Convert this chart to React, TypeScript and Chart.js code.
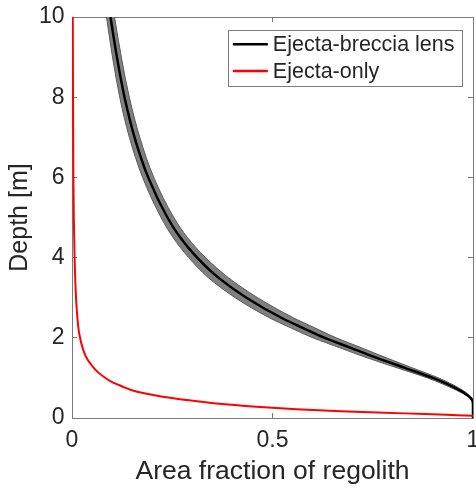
import React, { useEffect, useRef } from 'react';
import { Chart, registerables } from 'chart.js';

Chart.register(...registerables);

// ---- data ----
const X_TICKS = [0, 0.5, 1];
const Y_TICKS = [0, 2, 4, 6, 8, 10];
const X_TITLE = 'Area fraction of regolith';
const Y_TITLE = 'Depth [m]';
const LEGEND_LABELS = ['Ejecta-breccia lens', 'Ejecta-only'];

// Ejecta-breccia lens: depth [m] vs area fraction (mean and uncertainty band edges)
const BRECCIA_DEPTH = [10, 9, 8, 7, 6, 5, 4.5, 4, 3.5, 3, 2.5, 2.25, 2, 1.75, 1.5, 1.25, 1, 0.85, 0.7, 0.6, 0.5, 0.42, 0.3, 0];
const BRECCIA_MEAN = [0.096, 0.112, 0.131, 0.156, 0.19, 0.238, 0.27, 0.312, 0.365, 0.435, 0.522, 0.575, 0.63, 0.695, 0.76, 0.83, 0.9, 0.935, 0.965, 0.982, 0.994, 0.999, 1.0, 1.0];
const BRECCIA_LOW = [0.086, 0.101, 0.119, 0.143, 0.176, 0.222, 0.252, 0.291, 0.34, 0.407, 0.492, 0.545, 0.601, 0.668, 0.736, 0.811, 0.886, 0.924, 0.957, 0.977, 0.991, 0.998, 1.0, 1.0];
const BRECCIA_HIGH = [0.106, 0.123, 0.143, 0.169, 0.204, 0.254, 0.288, 0.333, 0.39, 0.463, 0.552, 0.605, 0.659, 0.722, 0.784, 0.849, 0.914, 0.946, 0.973, 0.987, 0.997, 1.0, 1.0, 1.0];

// Ejecta-only
const EJECTA_DEPTH = [10, 8, 6, 5, 4, 3, 2.5, 2.1, 1.7, 1.45, 1.28, 1.15, 1.03, 0.9, 0.78, 0.7, 0.615, 0.53, 0.45, 0.36, 0.28, 0.22, 0.17, 0.13, 0.1, 0.07, 0.055];
const EJECTA_ONLY = [0.002, 0.0025, 0.0035, 0.0045, 0.0065, 0.01, 0.0135, 0.018, 0.028, 0.039, 0.052, 0.064, 0.079, 0.099, 0.127, 0.147, 0.18, 0.226, 0.285, 0.36, 0.46, 0.56, 0.67, 0.78, 0.88, 0.96, 1.0];

// ---- styles ----
const FONT = '"Liberation Sans", Arial, Helvetica, sans-serif';
const TEXT = '#262626';
const AXIS = '#7a7a7a';
const BAND_FILL = 'rgb(128,128,128)';
const BAND_EDGE = 'rgb(90,90,90)';

const pts = (ys: number[], xs: number[]) => ys.map((y, i) => ({ x: xs[i], y }));

const insideLegend = {
  id: 'insideLegend',
  afterDraw(chart: any) {
    const { ctx, chartArea } = chart;
    const items = chart.data.datasets.filter((d: any) => d.inLegend);
    ctx.save();
    ctx.font = `21.5px ${FONT}`;
    const textW = Math.max(...items.map((d: any) => ctx.measureText(d.label).width));
    const padL = 5, lineLen = 35, gap = 5, padR = 7, rowH = 26.7, padT = 1.5;
    const boxW = padL + lineLen + gap + textW + padR;
    const boxH = padT * 2 + rowH * items.length;
    const right = chartArea.right - 11.5;
    const top = chartArea.top + 12.5;
    const left = right - boxW;
    ctx.fillStyle = '#ffffff';
    ctx.fillRect(left, top, boxW, boxH);
    ctx.strokeStyle = AXIS;
    ctx.lineWidth = 1;
    ctx.strokeRect(Math.round(left) + 0.5, Math.round(top) + 0.5, Math.round(boxW), Math.round(boxH));
    items.forEach((d: any, i: number) => {
      const cy = top + padT + rowH * (i + 0.5);
      ctx.beginPath();
      ctx.strokeStyle = d.borderColor;
      ctx.lineWidth = 2.5;
      ctx.moveTo(left + padL, cy);
      ctx.lineTo(left + padL + lineLen, cy);
      ctx.stroke();
      ctx.fillStyle = TEXT;
      ctx.textAlign = 'left';
      ctx.textBaseline = 'middle';
      ctx.fillText(d.label, left + padL + lineLen + gap, cy + 1);
    });
    ctx.restore();
  },
};

export default function App() {
  const ref = useRef<HTMLCanvasElement>(null);

  useEffect(() => {
    document.body.style.margin = '0';
    const canvas = ref.current;
    if (!canvas) return;
    const setTicks = (vals: number[]) => (s: any) => {
      s.ticks = vals.map((v) => ({ value: v }));
    };
    const fmt = (v: any) => String(v);
    const chart = new Chart(canvas, {
      type: 'line',
      data: {
        datasets: [
          {
            label: 'band-low',
            data: pts(BRECCIA_DEPTH, BRECCIA_LOW),
            borderColor: BAND_EDGE,
            borderWidth: 1,
            fill: false,
            order: 4,
          } as any,
          {
            label: 'band-high',
            data: pts(BRECCIA_DEPTH, BRECCIA_HIGH),
            borderColor: BAND_EDGE,
            borderWidth: 1,
            backgroundColor: BAND_FILL,
            fill: '-1',
            order: 3,
          },
          {
            label: LEGEND_LABELS[0],
            data: pts(BRECCIA_DEPTH, BRECCIA_MEAN),
            borderColor: '#000000',
            borderWidth: 2.5,
            fill: false,
            order: 2,
            inLegend: true,
          },
          {
            label: LEGEND_LABELS[1],
            data: pts(EJECTA_DEPTH, EJECTA_ONLY),
            borderColor: '#ff0000',
            borderWidth: 2,
            fill: false,
            order: 1,
            inLegend: true,
          },
        ],
      },
      options: {
        indexAxis: 'y',
        animation: false,
        responsive: false,
        devicePixelRatio: 1,
        events: [],
        layout: { padding: 0, autoPadding: false },
        elements: {
          point: { radius: 0 },
          line: { cubicInterpolationMode: 'monotone' },
        },
        plugins: {
          legend: { display: false },
          tooltip: { enabled: false },
          filler: { drawTime: 'beforeDatasetsDraw' },
        },
        scales: {
          x: {
            type: 'linear',
            position: 'bottom',
            min: 0,
            max: 1,
            afterBuildTicks: setTicks(X_TICKS),
            afterFit: (s: any) => { s.height = 71; s.paddingLeft = 0; s.paddingRight = 0; },
            border: { color: AXIS, width: 1 },
            grid: { drawOnChartArea: false, drawTicks: true, tickLength: -5, color: AXIS },
            ticks: { color: TEXT, font: { family: FONT, size: 23 }, padding: 14, maxRotation: 0, autoSkip: false, callback: fmt },
            title: { display: true, text: X_TITLE, color: TEXT, font: { family: FONT, size: 26.5 }, padding: { top: 0, bottom: 1 } },
          },
          x2: {
            type: 'linear',
            position: 'top',
            min: 0,
            max: 1,
            afterBuildTicks: setTicks(X_TICKS),
            afterFit: (s: any) => { s.height = 17; s.paddingLeft = 0; s.paddingRight = 0; },
            border: { color: AXIS, width: 1 },
            grid: { drawOnChartArea: false, drawTicks: true, tickLength: -5, color: AXIS },
            ticks: { display: false },
          },
          y: {
            type: 'linear',
            position: 'left',
            min: 0,
            max: 10,
            afterBuildTicks: setTicks(Y_TICKS),
            afterFit: (s: any) => { s.width = 72; s.paddingTop = 0; s.paddingBottom = 0; },
            border: { color: AXIS, width: 1 },
            grid: { drawOnChartArea: false, drawTicks: true, tickLength: -5, color: AXIS },
            ticks: { color: TEXT, font: { family: FONT, size: 23 }, padding: 12.5, autoSkip: false, callback: fmt },
            title: { display: true, text: Y_TITLE, color: TEXT, font: { family: FONT, size: 25 }, padding: { top: 5.5, bottom: 0 } },
          },
          y2: {
            type: 'linear',
            position: 'right',
            min: 0,
            max: 10,
            afterBuildTicks: setTicks(Y_TICKS),
            afterFit: (s: any) => { s.width = 3; s.paddingTop = 0; s.paddingBottom = 0; },
            border: { color: AXIS, width: 1 },
            grid: { drawOnChartArea: false, drawTicks: true, tickLength: -5, color: AXIS },
            ticks: { display: false },
          },
        },
      } as any,
      plugins: [insideLegend],
    });
    return () => chart.destroy();
  }, []);

  return (
    <div style={{ width: 476, height: 489 }}>
      <canvas ref={ref} width={476} height={489} style={{ display: 'block' }} />
    </div>
  );
}
